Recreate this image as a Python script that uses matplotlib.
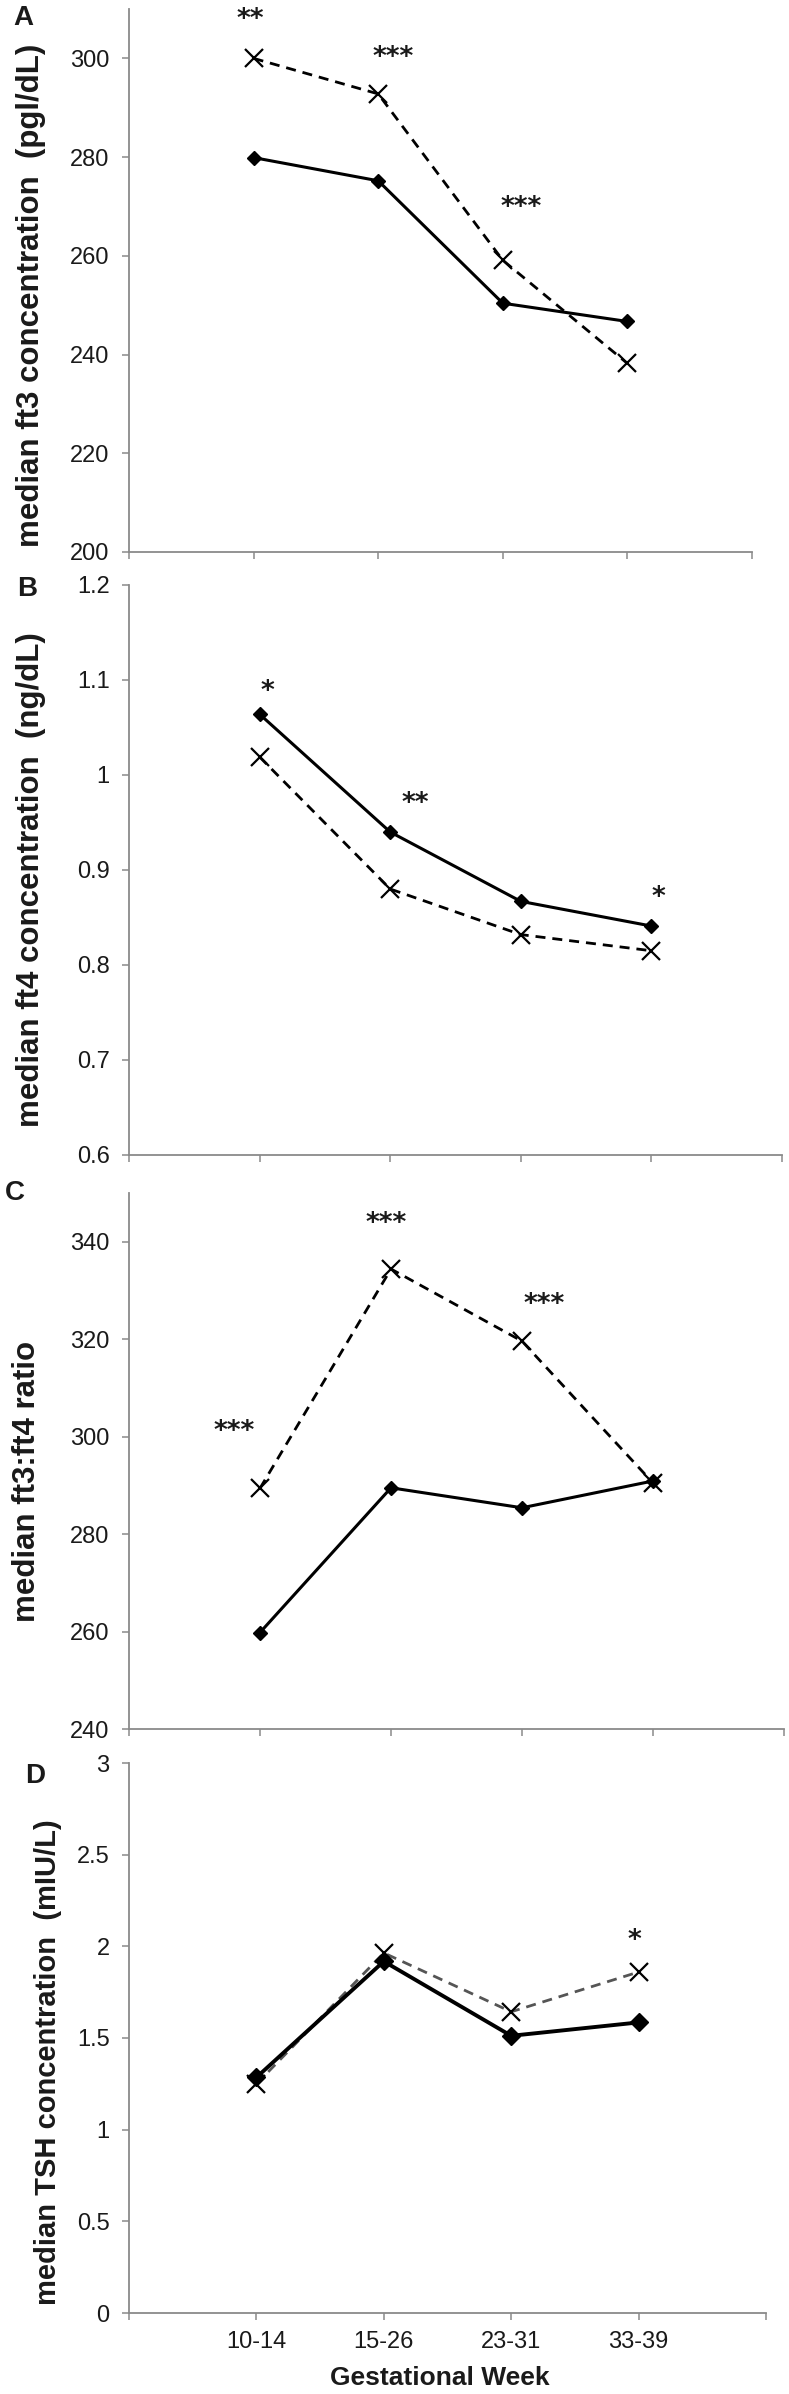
import matplotlib
matplotlib.use("Agg")
import matplotlib.pyplot as plt

W, H = 789, 2394

weeks = ["10-14", "15-26", "23-31", "33-39"]
x_pos = [1, 2, 3, 4]

ft3_solid = [279.9, 275.2, 250.4, 246.7]
ft3_dashed = [300.0, 292.8, 259.1, 238.2]
ft4_solid = [1.064, 0.940, 0.867, 0.841]
ft4_dashed = [1.019, 0.880, 0.832, 0.815]
ratio_solid = [259.8, 289.5, 285.4, 290.9]
ratio_dashed = [289.4, 334.4, 319.6, 290.5]
tsh_solid = [1.285, 1.918, 1.512, 1.585]
tsh_dashed = [1.249, 1.964, 1.643, 1.860]

# significance marks: (x, y, text)
ft3_stars = [(0.97, 307.8, "**"), (2.12, 300.0, "***"), (3.15, 269.6, "***")]
ft4_stars = [(1.06, 1.087, "*"), (2.19, 0.969, "**"), (4.05, 0.870, "*")]
ratio_stars = [(0.80, 300.9, "***"), (1.96, 343.6, "***"), (3.17, 327.0, "***")]
tsh_stars = [(3.97, 2.03, "*")]

panels = [
    dict(letter="A", solid=ft3_solid, dashed=ft3_dashed, stars=ft3_stars,
         ylim=(200, 310), yticks=[200, 220, 240, 260, 280, 300],
         ylabel="median ft3 concentration  (pgl/dL)", label_size=22.5,
         box=(129, 9, 752, 552), letter_xy=(23, 18), label_xy=(46, 295)),
    dict(letter="B", solid=ft4_solid, dashed=ft4_dashed, stars=ft4_stars,
         ylim=(0.6, 1.2), yticks=[0.6, 0.7, 0.8, 0.9, 1.0, 1.1, 1.2],
         ylabel="median ft4 concentration  (ng/dL)", label_size=22.5,
         box=(129, 585, 782, 1155), letter_xy=(27, 589), label_xy=(46, 880)),
    dict(letter="C", solid=ratio_solid, dashed=ratio_dashed, stars=ratio_stars,
         ylim=(240, 350), yticks=[240, 260, 280, 300, 320, 340],
         ylabel="median ft3:ft4 ratio", label_size=22.5,
         box=(129, 1193, 784, 1729), letter_xy=(15, 1193), label_xy=(42, 1481)),
    dict(letter="D", solid=tsh_solid, dashed=tsh_dashed, stars=tsh_stars,
         ylim=(0, 3), yticks=[0, 0.5, 1, 1.5, 2, 2.5, 3],
         ylabel="median TSH concentration  (mIU/L)", label_size=21,
         box=(129, 1763, 766, 2313), letter_xy=(35, 1776), label_xy=(62, 2062)),
]

axis_gray = "#8a8a8a"
text_col = "#1a1a1a"
plt.rcParams["font.family"] = ["Liberation Sans", "DejaVu Sans"]

fig = plt.figure(figsize=(W / 100, H / 100), dpi=100)

for i, p in enumerate(panels):
    x0, y0, x1, y1 = p["box"]
    ax = fig.add_axes([x0 / W, 1 - y1 / H, (x1 - x0) / W, (y1 - y0) / H])
    last = i == len(panels) - 1

    lw = 2.8 if last else 2.2
    ms = 9.5 if last else 7.6
    dash_col = "#555555" if last else "black"
    ax.plot(x_pos, p["dashed"], color=dash_col, ls=(0, (3.6, 2.5)), lw=2.0,
            marker="x", ms=13, mew=1.6, mec="black", zorder=3)
    ax.plot(x_pos, p["solid"], color="black", lw=lw, marker="D", ms=ms,
            mfc="black", mec="black", zorder=4)

    for sx, sy, s in p["stars"]:
        ax.text(sx, sy, s, ha="center", va="center", fontsize=19,
                fontweight="bold", family="DejaVu Sans", color=text_col)

    ax.set_xlim(0, 5)
    ax.set_ylim(*p["ylim"])
    ax.set_xticks(range(6))
    if last:
        ax.set_xticklabels([""] + weeks + [""])
        ax.set_xlabel("Gestational Week", fontsize=19, fontweight="bold",
                      color=text_col)
        ax.xaxis.set_label_coords(440 / W, 1 - 2366 / H, transform=fig.transFigure)
    else:
        ax.set_xticklabels([])
    ax.set_yticks(p["yticks"])
    ax.set_yticklabels(["{:g}".format(v) for v in p["yticks"]])

    ax.tick_params(axis="both", direction="out", length=5, width=1.1,
                   color=axis_gray, labelsize=17, labelcolor=text_col)
    ax.tick_params(axis="y", pad=9)
    ax.tick_params(axis="x", pad=8)
    for side in ("top", "right"):
        ax.spines[side].set_visible(False)
    for side in ("left", "bottom"):
        ax.spines[side].set_color(axis_gray)
        ax.spines[side].set_linewidth(1.3)

    ax.set_ylabel(p["ylabel"], fontsize=p["label_size"], fontweight="bold",
                  color=text_col)
    lx, ly = p["label_xy"]
    ax.yaxis.set_label_coords(lx / W, 1 - ly / H, transform=fig.transFigure)

    fx, fy = p["letter_xy"]
    fig.text(fx / W, 1 - fy / H, p["letter"], ha="center", va="center",
             fontsize=20, fontweight="bold", color=text_col)

fig.savefig("out.png", dpi=100)
